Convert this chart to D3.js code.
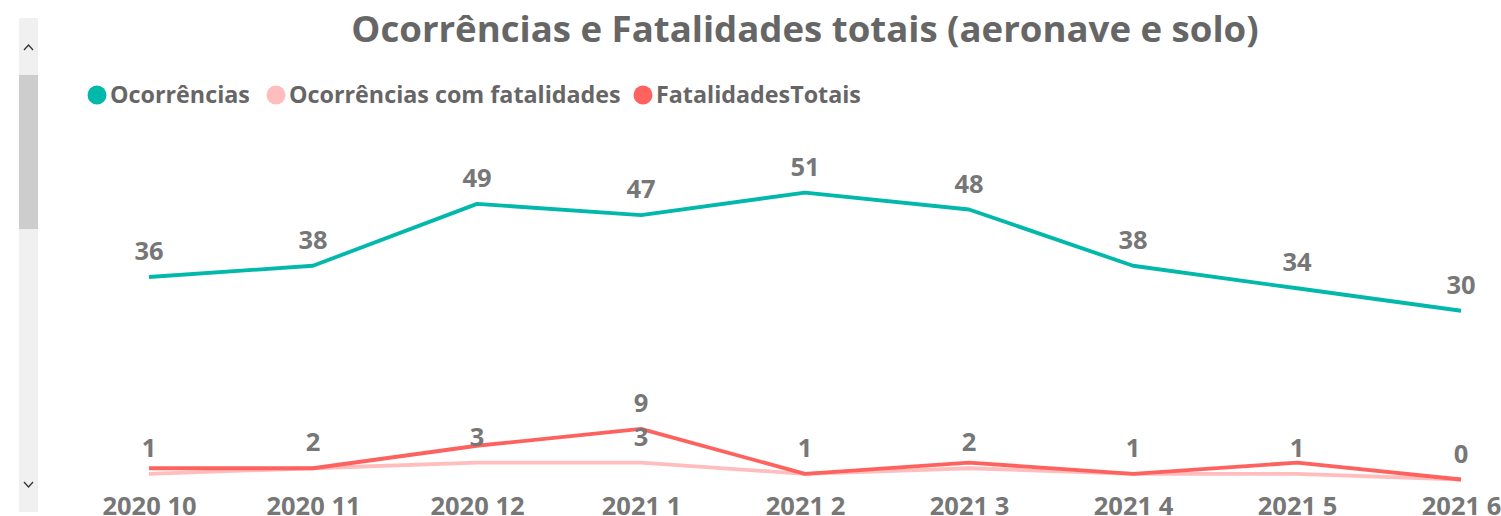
<html>
<script src="https://d3js.org/d3.v7.min.js"></script>
<head>
<style>
body {margin: 0; background: #fff;}
text {font-family: "Open Sans", sans-serif; font-weight: bold;}
</style>
</head>
<body>
<div id="chart"></div>
<script>
const months = ["2020 10", "2020 11", "2020 12", "2021 1", "2021 2", "2021 3", "2021 4", "2021 5", "2021 6"];
const ocorrencias = [36, 38, 49, 47, 51, 48, 38, 34, 30];
const ocorrComFatalidades = [1, 2, 3, 3, 1, 2, 1, 1, 0];
const fatalidadesTotais = [2, 2, 6, 9, 1, 3, 1, 3, 0];
const seriesNames = ["Ocorrências", "Ocorrências com fatalidades", "FatalidadesTotais"];
const seriesColors = ["#01B8AA", "#FFBDBD", "#FD625E"];

var width = 1501, height = 516;

const svg = d3.select("#chart").append("svg")
    .attr("width", width)
    .attr("height", height);

// scrollbar on the left
svg.append("rect").attr("x", 19).attr("y", 18).attr("width", 19).attr("height", 494).attr("fill", "#F0F0F0");
svg.append("rect").attr("x", 19).attr("y", 75).attr("width", 19).attr("height", 154).attr("fill", "#CDCDCD");
svg.append("path").attr("d", "M24,50 L28.5,45 L33,50").attr("fill", "none").attr("stroke", "#333").attr("stroke-width", 1.3);
svg.append("path").attr("d", "M24,482 L28.5,487 L33,482").attr("fill", "none").attr("stroke", "#333").attr("stroke-width", 1.3);

// title
svg.append("text")
    .attr("x", 805).attr("y", 42)
    .attr("text-anchor", "middle")
    .attr("font-size", "36.6px")
    .attr("fill", "#666")
    .text("Ocorrências e Fatalidades totais (aeronave e solo)");

// legend
var lx = [97, 276, 643];
seriesNames.forEach((name, i) => {
    svg.append("circle").attr("cx", lx[i]).attr("cy", 95).attr("r", 9.5).attr("fill", seriesColors[i]);
    svg.append("text").attr("x", lx[i] + 13).attr("y", 103)
        .attr("font-size", "23.3px").attr("fill", "#666").text(name);
});

var x = d3.scalePoint().domain(months).range([149, 1461]);
var y = d3.scaleLinear().domain([0, 60]).range([479.5, 142]);

var xaxis = d3.axisBottom(x).tickSize(0).tickPadding(0);
var gx = svg.append("g")
    .attr("transform", "translate(0,497)")
    .call(xaxis);
gx.select(".domain").remove();
gx.selectAll("text")
    .attr("dy", "0.71em")
    .attr("font-size", "25.5px")
    .attr("fill", "#777")
    .style("font-family", "'Open Sans', sans-serif")
    .style("font-weight", "bold");

var allSeries = [ocorrencias, ocorrComFatalidades, fatalidadesTotais];
var line = d3.line().x((d, i) => x(months[i])).y(d => y(d));

// draw lines (pink under red)
[0, 1, 2].forEach(s => {
    svg.append("path")
        .datum(allSeries[s])
        .attr("d", line)
        .attr("fill", "none")
        .attr("stroke", seriesColors[s])
        .attr("stroke-width", 3.8)
        .attr("stroke-linejoin", "round");
});

// data labels, hide those that collide
var placed = [];
[0, 1, 2].forEach(s => {
    allSeries[s].forEach((v, i) => {
        var cx = x(months[i]), base = y(v) - 17;
        var box = {x0: cx - 15, x1: cx + 15, y0: base - 22, y1: base + 4};
        var hit = placed.some(b => !(box.x1 < b.x0 || box.x0 > b.x1 || box.y1 < b.y0 || box.y0 > b.y1));
        if (hit) return;
        placed.push(box);
        svg.append("text")
            .attr("x", cx).attr("y", base)
            .attr("text-anchor", "middle")
            .attr("font-size", "25.5px")
            .attr("fill", "#777")
            .text(v);
    });
});
</script>
</body>
</html>
